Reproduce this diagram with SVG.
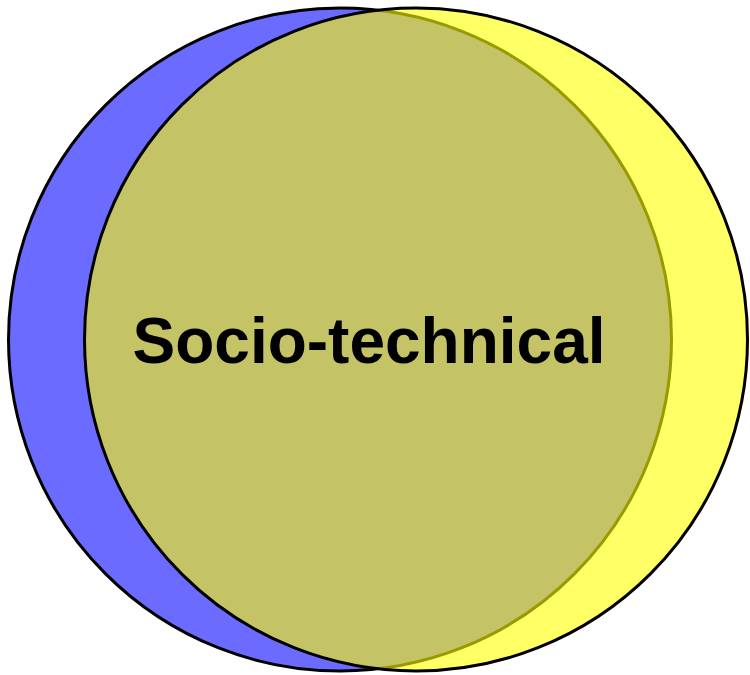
<svg xmlns="http://www.w3.org/2000/svg" width="750" height="675" viewBox="0 0 750 675">
<style>
.c{stroke:#000;stroke-width:3}
.t{font-family:"Liberation Sans",Arial,sans-serif;font-weight:bold;font-size:64px;fill:#000}
</style>
<rect width="750" height="675" fill="#fff"/>
<g id="blue"><circle class="c" cx="340" cy="339.5" r="331.5" fill="#6B6BFF"/></g>
<g id="yellow"><circle class="c" cx="416" cy="339.5" r="331.5" fill="#FFFF00" fill-opacity="0.6"/></g>
<g id="label"><text class="t" x="369" y="363" text-anchor="middle">Socio-technical</text></g>
</svg>
